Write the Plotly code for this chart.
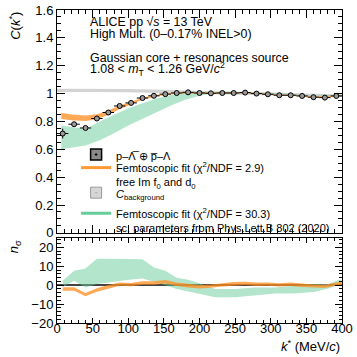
import plotly.graph_objects as go

# ---------------------------------------------------------------------------
# DATA
# ---------------------------------------------------------------------------

# p-Lambda-bar (+) pbar-Lambda correlation, bin centres in MeV/c
k_data = [8, 24, 40, 56, 72, 88, 104, 120, 136, 152, 168, 184, 200,
          216, 232, 248, 264, 280, 296, 312, 328, 344, 360, 376, 392]
c_data = [0.713, 0.780, 0.753, 0.821, 0.864, 0.911, 0.933, 0.968, 0.984,
          0.996, 1.004, 1.009, 1.004, 1.002, 1.004, 1.004, 1.007, 1.000,
          0.995, 0.988, 0.988, 0.983, 0.974, 0.971, 0.983]
c_err = [0.035, 0.012, 0.009, 0.008, 0.007, 0.006, 0.006, 0.005, 0.005,
         0.005, 0.004, 0.004, 0.004, 0.004, 0.004, 0.004, 0.004, 0.004,
         0.004, 0.004, 0.004, 0.004, 0.004, 0.004, 0.004]
k_binhalf = 8

# C_background band
k_bkg = [0, 50, 100, 150, 180, 220, 300, 400]
bkg_low = [1.011, 1.011, 1.010, 1.006, 1.001, 0.996, 0.990, 0.976]
bkg_up = [1.034, 1.034, 1.032, 1.028, 1.022, 1.015, 1.008, 0.994]

# Femtoscopic fit, free Im f0 and d0 (orange)
k_fit1 = [6, 20, 40, 56, 72, 88, 104, 120, 136, 152, 168, 184, 200,
          232, 264, 296, 328, 360, 392, 400]
fit1_low = [0.818, 0.808, 0.803, 0.816, 0.848, 0.890, 0.921, 0.955, 0.976,
            0.990, 0.998, 1.001, 1.000, 1.000, 1.002, 0.992, 0.984, 0.970,
            0.978, 0.981]
fit1_up = [0.862, 0.850, 0.842, 0.852, 0.878, 0.914, 0.942, 0.970, 0.988,
           1.001, 1.008, 1.010, 1.009, 1.009, 1.011, 1.000, 0.992, 0.979,
           0.987, 0.990]

# Femtoscopic fit, sc. parameters from PLB 802 (green)
k_fit2 = [6, 20, 40, 60, 80, 100, 120, 140, 160, 180, 200, 220, 240,
          280, 320, 360, 400]
fit2_low = [0.600, 0.610, 0.628, 0.665, 0.715, 0.770, 0.820, 0.868, 0.915,
            0.955, 0.985, 1.000, 1.004, 1.003, 0.995, 0.978, 0.985]
fit2_up = [0.770, 0.760, 0.745, 0.800, 0.845, 0.895, 0.930, 0.965, 0.990,
           1.005, 1.012, 1.015, 1.014, 1.010, 1.000, 0.984, 0.992]

# n_sigma, orange fit
k_ns1 = [8, 24, 40, 56, 72, 88, 104, 120, 136, 152, 168, 184, 200, 216,
         232, 248, 264, 280, 296, 312, 328, 344, 360, 376, 392, 400]
ns1 = [-2.0, -2.0, -5.0, -2.5, -0.8, 0.6, 0.3, 1.2, 1.2, 1.8, 0.5, -0.3,
       -0.8, -0.5, 0.2, 0.8, 1.0, 0.5, 0.6, 0.2, 0.5, 0.0, -0.5, -0.6,
       0.8, 1.2]
ns1_half = 0.9

# n_sigma, green fit
k_ns2 = [8, 24, 40, 56, 72, 88, 104, 120, 136, 152, 168, 184, 200, 222,
         250, 278, 306, 334, 362, 381, 395, 400]
ns2_low = [-1.0, 2.4, -1.2, 0.6, 1.5, 2.4, 3.0, 3.6, 1.8, 0.0, -2.0, -3.5,
           -4.5, -6.4, -6.4, -5.5, -4.4, -4.4, -3.4, -1.8, 0.0, 0.2]
ns2_up = [2.4, 7.6, 8.8, 14.0, 14.0, 14.0, 14.0, 13.8, 9.4, 7.6, 4.0, 2.9,
          1.0, -2.0, -2.0, -1.2, -1.2, -0.3, 0.6, 0.6, 2.7, 2.8]

# ---------------------------------------------------------------------------
# STYLE
# ---------------------------------------------------------------------------

FONT = "Liberation Sans, Arial, sans-serif"
COL_ORANGE = "rgba(255,140,30,0.75)"
COL_ORANGE_LINE = "#ff9933"
COL_GREEN = "rgba(102,204,153,0.5)"
COL_GREEN_LINE = "#66cc99"
COL_BKG = "rgba(200,200,200,0.8)"

_AXIS = dict(
    showline=True, linecolor="black", linewidth=1, mirror="allticks",
    ticks="inside", tickcolor="black", showgrid=False, zeroline=False,
    automargin=False,
    tickfont=dict(family=FONT, size=13, color="black"),
)


def band(x, low, up, color, **kw):
    return go.Scatter(
        x=list(x) + list(x)[::-1],
        y=list(up) + list(low)[::-1],
        fill="toself", fillcolor=color, mode="lines",
        line=dict(width=0), hoverinfo="skip", **kw,
    )


fig = go.Figure()

# ---- top panel ------------------------------------------------------------
fig.add_trace(band(k_bkg, bkg_low, bkg_up, COL_BKG, xaxis="x2", yaxis="y",
                   showlegend=False))
fig.add_trace(band(k_fit2, fit2_low, fit2_up, COL_GREEN, xaxis="x2", yaxis="y",
                   showlegend=False))
fig.add_trace(band(k_fit1, fit1_low, fit1_up, COL_ORANGE, xaxis="x2", yaxis="y",
                   showlegend=False))
fig.add_trace(go.Scatter(
    x=k_data, y=c_data, xaxis="x2", yaxis="y", mode="markers",
    marker=dict(symbol="circle", size=5, color="#9a9a9a",
                line=dict(color="black", width=1)),
    error_y=dict(type="data", array=c_err, color="black", thickness=1, width=0),
    error_x=dict(type="constant", value=k_binhalf, color="black",
                 thickness=1, width=0),
    showlegend=False,
))

# ---- bottom panel ---------------------------------------------------------
fig.add_trace(band(k_ns2, ns2_low, ns2_up, COL_GREEN, xaxis="x", yaxis="y2",
                   showlegend=False))
fig.add_trace(band(k_ns1, [v - ns1_half for v in ns1],
                   [v + ns1_half for v in ns1], COL_ORANGE,
                   xaxis="x", yaxis="y2", showlegend=False))

# ---- legend entries -------------------------------------------------------
fig.add_trace(go.Scatter(
    x=[None], y=[None], mode="markers", legend="legend",
    marker=dict(symbol="square-dot", size=11, color="#8a8a8a",
                line=dict(color="black", width=1.5)),
    name="p–Λ̅ ⊕ p̅–Λ",
))
fig.add_trace(go.Scatter(
    x=[None], y=[None], mode="lines", legend="legend2",
    line=dict(color=COL_ORANGE_LINE, width=3),
    name="Femtoscopic fit (χ<sup>2</sup>/NDF = 2.9)<br>free Im f<sub>0</sub> and d<sub>0</sub>",
))
fig.add_trace(go.Scatter(
    x=[None], y=[None], mode="markers", legend="legend3",
    marker=dict(symbol="square-dot", size=11, color="#d6d6d6",
                line=dict(color="#9a9a9a", width=1)),
    name="<i>C</i><sub>background</sub>",
))
fig.add_trace(go.Scatter(
    x=[None], y=[None], mode="lines", legend="legend4",
    line=dict(color=COL_GREEN_LINE, width=3),
    name="Femtoscopic fit (χ<sup>2</sup>/NDF = 30.3)<br>sc. parameters from Phys.Lett.B 802 (2020)",
))

_LEG = dict(
    x=0.067, xanchor="left", yanchor="top", bgcolor="rgba(0,0,0,0)",
    font=dict(family=FONT, size=11, color="black"), valign="top",
    itemwidth=30, borderwidth=0,
)

fig.update_layout(
    width=357, height=357,
    margin=dict(l=57, r=15, t=10, b=34, autoexpand=False),
    plot_bgcolor="white", paper_bgcolor="white",
    font=dict(family=FONT, color="black"),
    xaxis=dict(domain=[0, 1], anchor="y2", range=[0, 400], dtick=50,
               ticklen=5, ticklabelstandoff=-7,
               minor=dict(dtick=10, ticklen=3, ticks="inside",
                          tickcolor="black"), **_AXIS),
    xaxis2=dict(domain=[0, 1], anchor="y", range=[0, 400], dtick=50,
                matches="x", showticklabels=False, ticklen=8,
                minor=dict(dtick=10, ticklen=4, ticks="inside",
                           tickcolor="black"), **_AXIS),
    yaxis=dict(domain=[0.288, 1], anchor="x2", range=[0, 1.6], dtick=0.2,
               ticklen=8, minor=dict(dtick=0.05, ticklen=4, ticks="inside",
                                     tickcolor="black"), **_AXIS),
    yaxis2=dict(domain=[0, 0.2716], anchor="x", range=[-20, 25], dtick=10,
                ticklen=7, minor=dict(dtick=2, ticklen=3.5, ticks="inside",
                                      tickcolor="black"), **_AXIS),
    legend=dict(y=0.582, **_LEG),
    legend2=dict(y=0.540, **_LEG),
    legend3=dict(y=0.460, **_LEG),
    legend4=dict(y=0.394, **_LEG),
    showlegend=True,
)
fig.update_yaxes(selector=dict(anchor="x"), zeroline=True,
                 zerolinecolor="#444444", zerolinewidth=1.5)

ann_font = dict(family=FONT, size=12.4, color="black")
header = [
    ("ALICE pp √<i>s</i> = 13 TeV", 0.961),
    ("High Mult. (0–0.17% INEL>0)", 0.923),
    ("Gaussian core + resonances source", 0.848),
    ("1.08 < <i>m</i><sub>T</sub> < 1.26 GeV/<i>c</i><sup>2</sup>", 0.810),
]
for text, ypos in header:
    fig.add_annotation(text=text, xref="paper", yref="paper", x=0.109, y=ypos,
                       xanchor="left", yanchor="middle", showarrow=False,
                       font=ann_font)

title_font = dict(family=FONT, size=13, color="black")
fig.add_annotation(text="<i>C</i>(<i>k</i><sup>*</sup>)", textangle=-90,
                   xref="paper", yref="paper", x=-0.148, y=1.0,
                   xanchor="center", yanchor="top", showarrow=False,
                   font=title_font)
fig.add_annotation(text="<i>n</i><sub>σ</sub>", textangle=-90,
                   xref="paper", yref="paper", x=-0.148, y=0.272,
                   xanchor="center", yanchor="top", showarrow=False,
                   font=title_font)
fig.add_annotation(text="<i>k</i><sup>*</sup> (MeV/<i>c</i>)",
                   xref="paper", yref="paper", x=1.0, y=-0.072,
                   xanchor="right", yanchor="middle", showarrow=False,
                   font=title_font)

# the default page keeps an 8 px body margin; drop it so the figure sits at 0,0
fig.write_html(
    "out.html",
    config={"displayModeBar": False},
    post_script="document.body.style.margin='0';document.body.style.overflow='hidden';",
)
